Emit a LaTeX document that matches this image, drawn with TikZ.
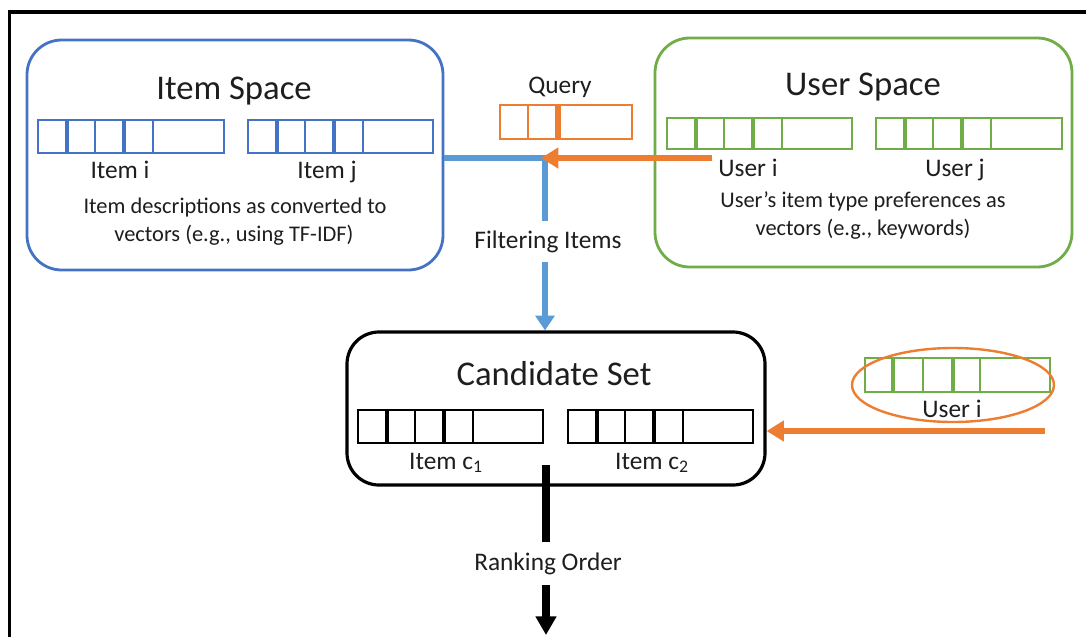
\documentclass[tikz,border=0pt]{standalone}
\usepackage{fontspec}
\setmainfont{Carlito}
\usetikzlibrary{arrows.meta,shapes.geometric}

\definecolor{boxblue}{HTML}{4472C4}
\definecolor{lineblue}{HTML}{5B9BD5}
\definecolor{boxgreen}{HTML}{70AD47}
\definecolor{accent}{HTML}{ED7D31}
\definecolor{ink}{HTML}{1E1E1E}

% feature vector: name, centre, width, height (px), colour, divider list (offset/line width)
\newcommand\cellvec[6]{%
  \node[draw=#5, line width=2.2pt, minimum width=#3*0.75pt, minimum height=#4*0.75pt,
        inner sep=0pt, outer sep=0pt] (#1) at #2 {};
  \edef\celllist{#6}%
  \foreach \o/\w in \celllist
    \draw[#5, line width=\w pt] ([xshift=\o*0.75pt]#1.north west) -- ([xshift=\o*0.75pt]#1.south west);
}
\newcommand\stdcells{29/3.4, 57/2.2, 86/3.4, 115/2.2}

\tikzset{
  spacebox/.style={draw=#1, line width=2.1pt, rounded corners=26pt, inner sep=0pt},
  title/.style={font=\fontsize{26}{31}\selectfont, text=ink, anchor=base, inner sep=0pt},
  lbl/.style={font=\fontsize{19}{23}\selectfont, text=ink, anchor=base, inner sep=0pt},
  desc/.style={font=\fontsize{16.8}{20.5}\selectfont, text=ink, anchor=base, inner sep=0pt},
  bluearrow/.style={draw=lineblue, line width=3.8pt, -{Triangle[width=14pt,length=11pt]}},
  orangearrow/.style={draw=accent, line width=4pt, -{Triangle[width=15pt,length=13pt]}},
  blackarrow/.style={draw=black, line width=5.4pt, -{Triangle[width=15pt,length=14pt]}},
}

\begin{document}
\begin{tikzpicture}[x=0.75pt, y=-0.75pt]
\useasboundingbox (0,0) rectangle (1086,636);
\clip (0,0) rectangle (1086,636);
\fill[white] (0,0) rectangle (1086,636);

% outer frame
\draw[line width=2.3pt, black] (9.5,700) -- (9.5,12) -- (1200,12);

% item space
\node[spacebox=boxblue, minimum width=416*0.75pt, minimum height=230*0.75pt] (itemspace) at (235,155) {};
\node[title] (itemtitle) at (234,99) {Item Space};
\cellvec{itemi}{(131,136.5)}{186}{33}{boxblue}{\stdcells}
\cellvec{itemj}{(340.5,136.5)}{185}{33}{boxblue}{\stdcells}
\node[lbl] (itemilbl) at (120,178) {Item i};
\node[lbl] (itemjlbl) at (327,178) {Item j};
\node[desc] (idesca) at (235,213) {Item descriptions as converted to};
\node[desc] (idescb) at (234,241) {vectors (e.g., using TF-IDF)};

% user space
\node[spacebox=boxgreen, minimum width=417*0.75pt, minimum height=229*0.75pt] (userspace) at (863.5,152.5) {};
\node[title] (usertitle) at (863,95) {User Space};
\cellvec{useri}{(759.5,133.5)}{185}{31}{boxgreen}{\stdcells}
\cellvec{userj}{(969,133.5)}{186}{31}{boxgreen}{\stdcells}
\node[lbl] (userilbl) at (748,176) {User i};
\node[lbl] (userjlbl) at (955,176) {User j};
\node[desc] (udesca) at (863,207) {User’s item type preferences as};
\node[desc] (udescb) at (863,235) {vectors (e.g., keywords)};

% query
\node[lbl] (querylbl) at (560,93) {Query};
\cellvec{query}{(566,122)}{132}{34}{accent}{28/2.2, 58/4.0}

% candidate set
\node[draw=black, line width=2.4pt, rounded corners=24pt, minimum width=418*0.75pt,
      minimum height=153*0.75pt, inner sep=0pt] (cand) at (556,408.5) {};
\node[title] (candtitle) at (554,385) {Candidate Set};
\cellvec{candone}{(450.5,426.5)}{185}{33}{black}{\stdcells}
\cellvec{candtwo}{(660.5,426.5)}{185}{33}{black}{\stdcells}
\node[lbl] (candonelbl) at (446,469) {Item c\textsubscript{1}};
\node[lbl] (candtwolbl) at (652,469) {Item c\textsubscript{2}};

% selected user
\cellvec{usersel}{(957.5,375)}{185}{34}{boxgreen}{28/3.4, 58/2.2, 88/3.4, 115/2.2}
\node[lbl] (usersellbl) at (952,417) {User i};
\node[draw=accent, line width=1.8pt, ellipse, minimum width=202*0.75pt,
      minimum height=74*0.75pt, inner sep=0pt] (selring) at (953,385) {};

% filtering path
\coordinate (jn) at (545,158);
\draw[bluearrow] (itemspace.east |- jn) -- (jn) -- (jn |- cand.north);
\node[lbl, fill=white, inner xsep=2pt, inner ysep=7pt] (filter) at (548,248) {Filtering Items};

% query from user i
\coordinate (qstart) at (712,158);
\draw[orangearrow] (qstart) -- ([xshift=-3pt]jn);

% selected user to candidate set
\coordinate (selstart) at (1045,431);
\draw[orangearrow] (selstart) -- (cand.east |- selstart);

% ranking
\coordinate (rstart) at (546,465);
\coordinate (rend) at (546,635);
\draw[blackarrow] (rstart) -- (rend);
\node[lbl, fill=white, inner xsep=2pt, inner ysep=8pt] (rank) at (548,570) {Ranking Order};
\end{tikzpicture}
\end{document}
